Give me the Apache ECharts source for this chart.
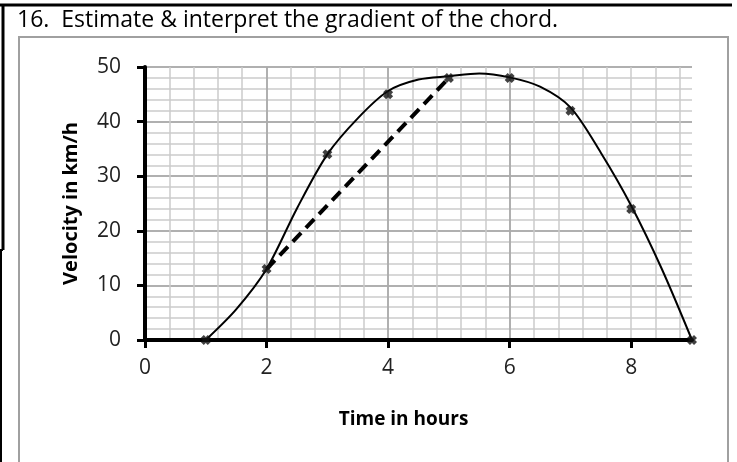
<!DOCTYPE html>
<html>
<head>
<meta charset="utf-8">
<script src="https://cdn.jsdelivr.net/npm/echarts@6/dist/echarts.min.js"></script>
<style>
  html, body { margin: 0; padding: 0; background: #fff; }
  #chart { width: 737px; height: 462px; }
</style>
</head>
<body>
<div id="chart"></div>
<script>
// measured points (hours, km/h)
var timeHours = [1, 2, 3, 4, 5, 6, 7, 8, 9];
var velocity = [0, 13, 34, 45, 48, 48, 42, 24, 0];

// hand drawn curve
var curveTime = [1, 1.5, 2, 2.5, 3, 3.5, 4, 4.5, 5, 5.5, 6, 6.5, 7, 7.5, 8, 8.5, 9];
var curveVelocity = [0, 5.6, 13, 24.1, 34, 40.6, 45.6, 47.7, 48.3, 48.8, 48.1, 46.4, 42.6, 34.3, 24.6, 13.1, 0];

// chord
var chordTime = [2, 5];
var chordVelocity = [13, 48];

var xTickLabels = [0, 2, 4, 6, 8];
var yTickLabels = [0, 10, 20, 30, 40, 50];

function pairs(xs, ys) {
    var out = [];
    for (var i = 0; i < xs.length; i++) {
        out.push([xs[i], ys[i]]);
    }
    return out;
}

var labelFont = '"Open Sans", sans-serif';
// bold little "x" marker
var crossSymbol = 'path://M0,3 L3,0 L5,2 L7,0 L10,3 L8,5 L10,7 L7,10 L5,8 L3,10 L0,7 L2,5 Z';

var option = {
    backgroundColor: '#fff',
    animation: false,
    graphic: [
        // page frame
        { type: 'line', shape: { x1: 0, y1: 5, x2: 732, y2: 5 }, style: { stroke: '#000', lineWidth: 3 } },
        { type: 'line', shape: { x1: 3, y1: 4, x2: 3, y2: 250 }, style: { stroke: '#000', lineWidth: 3 } },
        { type: 'line', shape: { x1: 0, y1: 250, x2: 3, y2: 250 }, style: { stroke: '#000', lineWidth: 2 } },
        { type: 'line', shape: { x1: 1, y1: 250, x2: 1, y2: 462 }, style: { stroke: '#000', lineWidth: 2 } },
        // chart box
        { type: 'rect', shape: { x: 19, y: 37, width: 709, height: 440 }, style: { fill: 'none', stroke: '#a0a0a0', lineWidth: 2 } },
        {
            type: 'text', left: 17, top: 9,
            style: { text: '16.  Estimate & interpret the gradient of the chord.', font: '23px "Open Sans", sans-serif', fill: '#000' }
        }
    ],
    grid: {
        left: 145,
        right: 45,
        top: 67,
        bottom: 122
    },
    xAxis: [{
        // minor grid
        type: 'value', min: 0, max: 9, interval: 0.4,
        axisLine: { show: false }, axisTick: { show: false }, axisLabel: { show: false },
        splitLine: { show: true, showMaxLine: false, lineStyle: { color: '#cbcbcb', width: 1.5 } }
    }, {
        type: 'value', min: 0, max: 9, interval: 2,
        position: 'bottom',
        name: 'Time in hours',
        nameLocation: 'middle',
        nameGap: 70,
        nameTextStyle: { fontFamily: labelFont, fontWeight: 'bold', fontSize: 19, color: '#000', padding: [0, 30, 0, 0] },
        axisLine: { show: true, onZero: false, lineStyle: { color: '#000', width: 4 } },
        axisTick: { show: true, length: 8, customValues: xTickLabels, lineStyle: { color: '#000', width: 3 } },
        axisLabel: { customValues: xTickLabels, margin: 18, fontFamily: labelFont, fontSize: 21, color: '#222' },
        splitLine: { show: true, showMaxLine: false, lineStyle: { color: '#a3a3a3', width: 1.5 } }
    }],
    yAxis: [{
        type: 'value', min: 0, max: 50, interval: 2,
        axisLine: { show: false }, axisTick: { show: false }, axisLabel: { show: false },
        splitLine: { show: true, lineStyle: { color: '#cbcbcb', width: 1.5 } }
    }, {
        type: 'value', min: 0, max: 50, interval: 10,
        position: 'left',
        name: 'Velocity in km/h',
        nameLocation: 'middle',
        nameGap: 64,
        nameTextStyle: { fontFamily: labelFont, fontWeight: 'bold', fontSize: 20, color: '#000' },
        axisLine: { show: true, onZero: false, lineStyle: { color: '#000', width: 4 } },
        axisTick: { show: true, length: 8, customValues: yTickLabels, lineStyle: { color: '#000', width: 3 } },
        axisLabel: { customValues: yTickLabels, margin: 24, fontFamily: labelFont, fontSize: 21, color: '#222' },
        splitLine: { show: true, lineStyle: { color: '#a3a3a3', width: 1.5 } }
    }],
    series: [{
        name: 'curve',
        type: 'line',
        xAxisIndex: 1,
        yAxisIndex: 1,
        smooth: 0.3,
        showSymbol: false,
        lineStyle: { color: '#000', width: 2 },
        data: pairs(curveTime, curveVelocity),
        z: 3
    }, {
        name: 'chord',
        type: 'line',
        xAxisIndex: 1,
        yAxisIndex: 1,
        showSymbol: false,
        lineStyle: { color: '#000', width: 4, type: [12, 7] },
        data: pairs(chordTime, chordVelocity),
        z: 3
    }, {
        name: 'Velocity',
        type: 'scatter',
        xAxisIndex: 1,
        yAxisIndex: 1,
        symbol: crossSymbol,
        symbolSize: 10,
        itemStyle: { color: '#111' },
        data: pairs(timeHours, velocity),
        z: 4
    }]
};

var chart = echarts.init(document.getElementById('chart'));
chart.setOption(option);
</script>
</body>
</html>
